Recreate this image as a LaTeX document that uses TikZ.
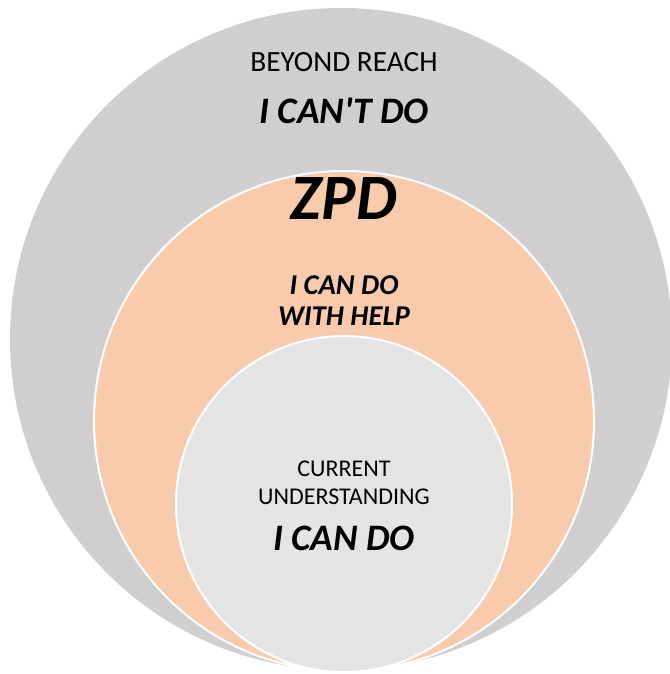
\documentclass[tikz,border=0pt]{standalone}
\usepackage{fontspec}
\setmainfont{Carlito}[Ligatures=TeXOff]
\usetikzlibrary{positioning}
\definecolor{reachgray}{HTML}{D0CECF}
\definecolor{zpdpeach}{HTML}{F8CBAD}
\definecolor{nowgray}{HTML}{E4E4E4}
\newcommand\zonefont[2]{\fontsize{#1}{#2}\selectfont}
\tikzstyle{zone} = [circle, inner sep=0pt, draw=white, line width=1.5pt]
\tikzstyle{plain} = [anchor=base, align=center, inner sep=0pt]
\tikzstyle{strong} = [plain, font=\bfseries\itshape]

\begin{document}
\begin{tikzpicture}[x=0.75pt, y=-0.75pt]
	    \useasboundingbox (0,0) rectangle (670,674);

	    % the three zones
	    \node[zone, draw=none, fill=reachgray, minimum size=496.5pt] (reach) at (341,339) {};
	    \node[zone, fill=zpdpeach, minimum size=375pt] (zpd) at (344,421) {};
	    \node[zone, fill=nowgray, minimum size=252pt] (now) at (344,504) {};

	    % labels
	    \node[plain, font=\zonefont{22}{26}] (reachtitle) at (344,72) {BEYOND REACH};
	    \node[strong, font=\bfseries\itshape\zonefont{28}{32}] (reachtext) at (344,123) {I CAN'T DO};

	    \node[strong, font=\bfseries\itshape\zonefont{48.5}{54}] (zpdtitle) at (344,219) {ZPD};
	    \node[strong, font=\bfseries\itshape\zonefont{21.5}{23.2}] (zpdtext) at (344,325) {I CAN DO\\WITH HELP};

	    \node[plain, font=\zonefont{18}{20.3}] (nowtitle) at (344,504) {CURRENT\\UNDERSTANDING};
	    \node[strong, font=\bfseries\itshape\zonefont{28}{32}] (nowtext) at (344,550) {I CAN DO};
	\end{tikzpicture}
\end{document}
